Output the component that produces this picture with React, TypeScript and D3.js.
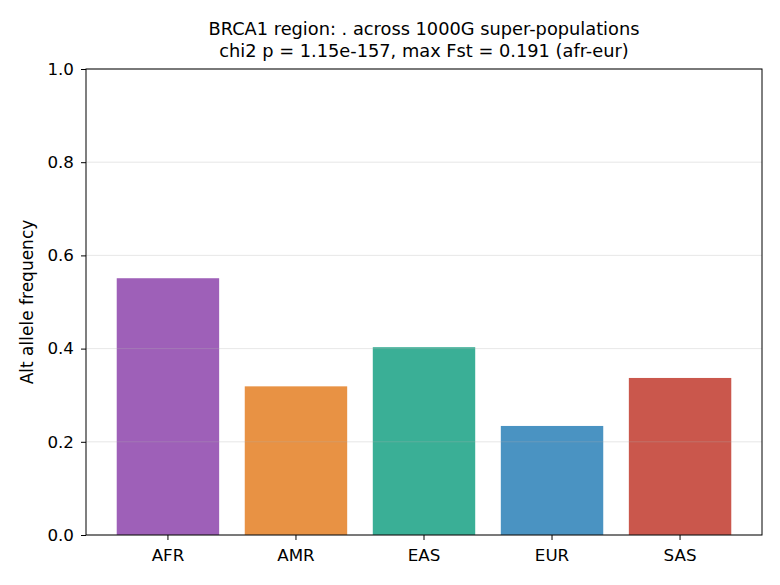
import { useEffect, useRef } from "react"
import * as d3 from "d3"

const populations = ["AFR", "AMR", "EAS", "EUR", "SAS"]
const altFreq = [0.551, 0.319, 0.403, 0.234, 0.337]
const barColors = ["#9e60b8", "#e89244", "#3aaf96", "#4a93c2", "#ca574c"]
const yTicks = [0, 0.2, 0.4, 0.6, 0.8, 1.0]
const titleLines = [
  "BRCA1 region: . across 1000G super-populations",
  "chi2 p = 1.15e-157, max Fst = 0.191 (afr-eur)",
]

export default function App() {
  const svgRef = useRef<SVGSVGElement>(null)

  useEffect(() => {
    if (!svgRef.current) return
    const W = 780
    const H = 585
    const margin = { top: 69, right: 18, bottom: 50, left: 86 }
    const width = W - margin.left - margin.right
    const height = H - margin.top - margin.bottom
    const font = "DejaVu Sans"

    d3.select(svgRef.current).selectAll("*").remove()

    const svg = d3.select(svgRef.current).attr("width", W).attr("height", H)
    svg.append("rect").attr("width", W).attr("height", H).attr("fill", "#fff")

    const g = svg.append("g").attr("transform", `translate(${margin.left},${margin.top})`)

    const x = d3.scaleBand().domain(populations).range([0, width]).paddingInner(0.2).paddingOuter(0.24)
    const y = d3.scaleLinear().domain([0, 1]).range([height, 0])

    // bars
    g.selectAll(".bar")
      .data(populations)
      .enter()
      .append("rect")
      .attr("x", (d) => x(d)!)
      .attr("y", (d, i) => y(altFreq[i]))
      .attr("width", x.bandwidth())
      .attr("height", (d, i) => height - y(altFreq[i]))
      .attr("fill", (d, i) => barColors[i])

    // horizontal grid over the bars
    g.selectAll(".grid")
      .data(yTicks)
      .enter()
      .append("line")
      .attr("x1", 0)
      .attr("x2", width)
      .attr("y1", (d) => y(d))
      .attr("y2", (d) => y(d))
      .attr("stroke", "#b0b0b0")
      .attr("stroke-opacity", 0.3)
      .attr("stroke-width", 1)

    const yAxis = g
      .append("g")
      .call(d3.axisLeft(y).tickValues(yTicks).tickFormat(d3.format(".1f")).tickSize(5).tickPadding(7))
    const xAxis = g
      .append("g")
      .attr("transform", `translate(0,${height})`)
      .call(d3.axisBottom(x).tickSize(5).tickPadding(7))

    for (const ax of [yAxis, xAxis]) {
      ax.select(".domain").remove()
      ax.selectAll("line").attr("stroke", "#000").attr("stroke-width", 1)
      ax.selectAll("text")
        .attr("fill", "#000")
        .style("font-family", font)
        .style("font-size", "16.7px")
    }
    xAxis.selectAll("text").attr("dy", "0.82em")

    // frame
    g.append("rect")
      .attr("width", width)
      .attr("height", height)
      .attr("fill", "none")
      .attr("stroke", "#000")
      .attr("stroke-width", 1)

    svg
      .append("text")
      .attr("transform", `translate(33,${margin.top + height / 2}) rotate(-90)`)
      .attr("text-anchor", "middle")
      .style("font-family", font)
      .style("font-size", "17px")
      .text("Alt allele frequency")

    svg
      .selectAll(".title")
      .data(titleLines)
      .enter()
      .append("text")
      .attr("x", margin.left + width / 2)
      .attr("y", (d, i) => 35 + i * 22)
      .attr("text-anchor", "middle")
      .style("font-family", font)
      .style("font-size", "17.8px")
      .text((d) => d)
  }, [])

  return (
    <div style={{ position: "absolute", left: 0, top: 0 }}>
      <svg ref={svgRef}></svg>
    </div>
  )
}
